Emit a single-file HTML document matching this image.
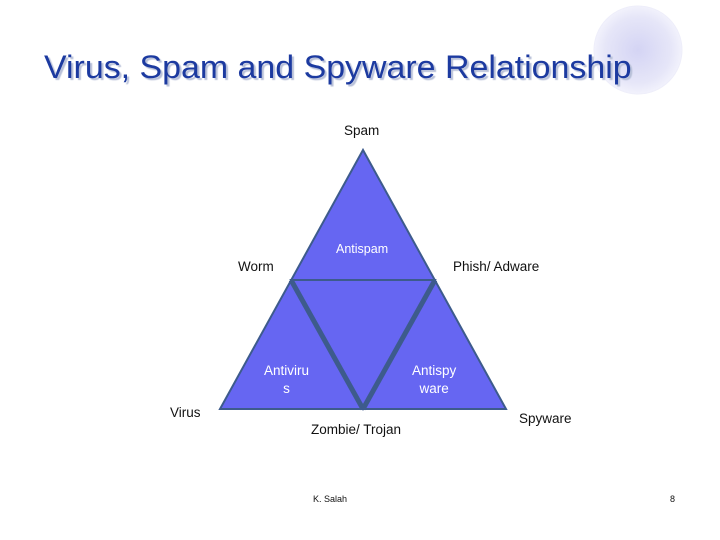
<!DOCTYPE html>
<html><head><meta charset="utf-8"><style>
body{margin:0;width:720px;height:540px;background:#fff;position:relative;overflow:hidden;font-family:"Liberation Sans",sans-serif}
.t{position:absolute;font-size:13.5px;color:#111;white-space:nowrap}
.w{color:#fff}
</style></head><body>
<svg width="720" height="540" style="position:absolute;left:0;top:0">
<defs><radialGradient id="g" cx="0.5" cy="0.5" r="0.5"><stop offset="0" stop-color="#d4d4f4"/><stop offset="0.75" stop-color="#e6e6f8"/><stop offset="1" stop-color="#f2f2fc"/></radialGradient></defs>
<circle cx="638" cy="50" r="44" fill="url(#g)" stroke="#eeeefa" stroke-width="1"/>
<polygon points="363,150 220,409 506,409" fill="#6666f2" stroke="#3d5b8c" stroke-width="2"/>
<polygon points="291,280 435,280 363,409" fill="#6666f2" stroke="#3d5b8c" stroke-width="2"/>
<line x1="291" y1="280" x2="363" y2="409" stroke="#3d5b8c" stroke-width="5"/>
<line x1="435" y1="280" x2="363" y2="409" stroke="#3d5b8c" stroke-width="5"/>
<line x1="291" y1="280" x2="435" y2="280" stroke="#3d5b8c" stroke-width="2"/>
</svg>
<div style="position:absolute;left:44px;top:49px;font-size:32px;color:#1c3aa0;text-shadow:2px 2px 1px #b8c0d8;white-space:nowrap;transform:scaleX(1.06);transform-origin:0 0">Virus, Spam and Spyware Relationship</div>
<div class="t" style="left:344px;top:123px">Spam</div>
<div class="t" style="left:238px;top:259px">Worm</div>
<div class="t w" style="left:336px;top:242px;font-size:12.5px">Antispam</div>
<div class="t" style="left:453px;top:259px">Phish/ Adware</div>
<div class="t w" style="left:264px;top:362px;text-align:center;line-height:18px">Antiviru<br>s</div>
<div class="t w" style="left:412px;top:362px;text-align:center;line-height:18px">Antispy<br>ware</div>
<div class="t" style="left:170px;top:405px">Virus</div>
<div class="t" style="left:311px;top:422px">Zombie/ Trojan</div>
<div class="t" style="left:519px;top:411px">Spyware</div>
<div class="t" style="left:313px;top:494px;font-size:9px">K. Salah</div>
<div class="t" style="left:670px;top:494px;font-size:9px">8</div>
</body></html>
